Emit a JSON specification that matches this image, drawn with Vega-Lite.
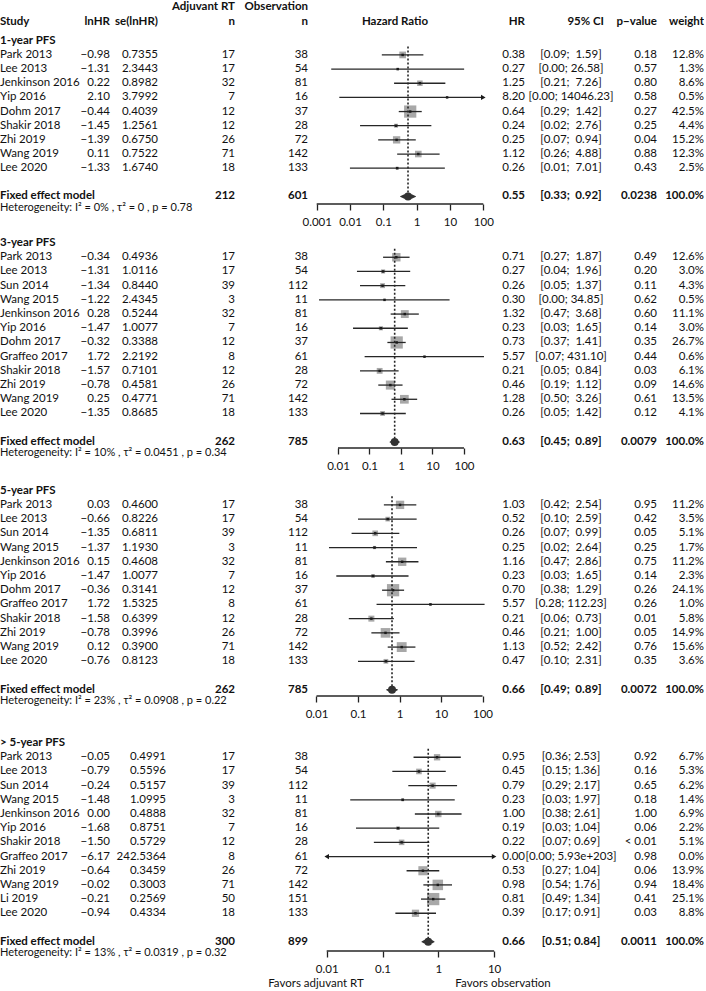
{
"$schema":"https://vega.github.io/schema/vega-lite/v6.json",
"padding":{"left":0,"top":0,"right":0,"bottom":16},
"background":"white",
"config":{"view":{"stroke":null},"font":"Lato","text":{"font":"Lato","fontSize":11.5,"color":"#111111"},"axis":{"labelFont":"Lato"}},
"datasets":{
"t":[
{"sec":1,"row":-2,"kind":"colhead","n1":"Adjuvant RT","n2":"Observation"},
{"sec":1,"row":-1,"kind":"colhead","study":"Study","lnhr":"lnHR","se":"se(lnHR)","n1":"n","n2":"n","fp":"Hazard Ratio","hr_s":"HR","ci":"95% CI","p":"p−value","w_s":"weight"},
{"sec":1,"row":0,"kind":"head","study":"1-year PFS"},
{"sec":1,"row":1,"kind":"study","study":"Park 2013","lnhr":"−0.98","se":"0.7355","n1":17,"n2":38,"hr":0.38,"hr_s":"0.38","ci":"[0.09;\u00a0\u00a01.59]","p":"0.18","w":12.8,"w_s":"12.8%","lo":0.09,"hi":1.59},
{"sec":1,"row":2,"kind":"study","study":"Lee 2013","lnhr":"−1.31","se":"2.3443","n1":17,"n2":54,"hr":0.27,"hr_s":"0.27","ci":"[0.00; 26.58]","p":"0.57","w":1.3,"w_s":"1.3%","lo":0.00273,"hi":26.58},
{"sec":1,"row":3,"kind":"study","study":"Jenkinson 2016","lnhr":"0.22","se":"0.8982","n1":32,"n2":81,"hr":1.25,"hr_s":"1.25","ci":"[0.21;\u00a0\u00a07.26]","p":"0.80","w":8.6,"w_s":"8.6%","lo":0.21,"hi":7.26},
{"sec":1,"row":4,"kind":"study","study":"Yip 2016","lnhr":"2.10","se":"3.7992","n1":7,"n2":16,"hr":8.2,"hr_s":"8.20","ci":"[0.00; 14046.23]","p":"0.58","w":0.5,"w_s":"0.5%","lo":0.00477,"hi":100},
{"sec":1,"row":5,"kind":"study","study":"Dohm 2017","lnhr":"−0.44","se":"0.4039","n1":12,"n2":37,"hr":0.64,"hr_s":"0.64","ci":"[0.29;\u00a0\u00a01.42]","p":"0.27","w":42.5,"w_s":"42.5%","lo":0.29,"hi":1.42},
{"sec":1,"row":6,"kind":"study","study":"Shakir 2018","lnhr":"−1.45","se":"1.2561","n1":12,"n2":28,"hr":0.24,"hr_s":"0.24","ci":"[0.02;\u00a0\u00a02.76]","p":"0.25","w":4.4,"w_s":"4.4%","lo":0.02,"hi":2.76},
{"sec":1,"row":7,"kind":"study","study":"Zhi 2019","lnhr":"−1.39","se":"0.6750","n1":26,"n2":72,"hr":0.25,"hr_s":"0.25","ci":"[0.07;\u00a0\u00a00.94]","p":"0.04","w":15.2,"w_s":"15.2%","lo":0.07,"hi":0.94},
{"sec":1,"row":8,"kind":"study","study":"Wang 2019","lnhr":"0.11","se":"0.7522","n1":71,"n2":142,"hr":1.12,"hr_s":"1.12","ci":"[0.26;\u00a0\u00a04.88]","p":"0.88","w":12.3,"w_s":"12.3%","lo":0.26,"hi":4.88},
{"sec":1,"row":9,"kind":"study","study":"Lee 2020","lnhr":"−1.33","se":"1.6740","n1":18,"n2":133,"hr":0.26,"hr_s":"0.26","ci":"[0.01;\u00a0\u00a07.01]","p":"0.43","w":2.5,"w_s":"2.5%","lo":0.00994,"hi":7.01},
{"sec":1,"row":11,"kind":"fixed","study":"Fixed effect model","n1":212,"n2":601,"hr":0.55,"hr_s":"0.55","ci":"[0.33;\u00a0\u00a00.92]","p":"0.0238","w_s":"100.0%","lo":0.33,"hi":0.92},
{"sec":1,"row":11,"kind":"het","study":"Heterogeneity:  I² = 0% ,  τ² = 0 ,  p = 0.78"},

{"sec":2,"row":0,"kind":"head","study":"3-year PFS"},
{"sec":2,"row":1,"kind":"study","study":"Park 2013","lnhr":"−0.34","se":"0.4936","n1":17,"n2":38,"hr":0.71,"hr_s":"0.71","ci":"[0.27;\u00a0\u00a01.87]","p":"0.49","w":12.6,"w_s":"12.6%","lo":0.27,"hi":1.87},
{"sec":2,"row":2,"kind":"study","study":"Lee 2013","lnhr":"−1.31","se":"1.0116","n1":17,"n2":54,"hr":0.27,"hr_s":"0.27","ci":"[0.04;\u00a0\u00a01.96]","p":"0.20","w":3.0,"w_s":"3.0%","lo":0.04,"hi":1.96},
{"sec":2,"row":3,"kind":"study","study":"Sun 2014","lnhr":"−1.34","se":"0.8440","n1":39,"n2":112,"hr":0.26,"hr_s":"0.26","ci":"[0.05;\u00a0\u00a01.37]","p":"0.11","w":4.3,"w_s":"4.3%","lo":0.05,"hi":1.37},
{"sec":2,"row":4,"kind":"study","study":"Wang 2015","lnhr":"−1.22","se":"2.4345","n1":3,"n2":11,"hr":0.30,"hr_s":"0.30","ci":"[0.00; 34.85]","p":"0.62","w":0.5,"w_s":"0.5%","lo":0.0025,"hi":34.85},
{"sec":2,"row":5,"kind":"study","study":"Jenkinson 2016","lnhr":"0.28","se":"0.5244","n1":32,"n2":81,"hr":1.32,"hr_s":"1.32","ci":"[0.47;\u00a0\u00a03.68]","p":"0.60","w":11.1,"w_s":"11.1%","lo":0.47,"hi":3.68},
{"sec":2,"row":6,"kind":"study","study":"Yip 2016","lnhr":"−1.47","se":"1.0077","n1":7,"n2":16,"hr":0.23,"hr_s":"0.23","ci":"[0.03;\u00a0\u00a01.65]","p":"0.14","w":3.0,"w_s":"3.0%","lo":0.03,"hi":1.65},
{"sec":2,"row":7,"kind":"study","study":"Dohm 2017","lnhr":"−0.32","se":"0.3388","n1":12,"n2":37,"hr":0.73,"hr_s":"0.73","ci":"[0.37;\u00a0\u00a01.41]","p":"0.35","w":26.7,"w_s":"26.7%","lo":0.37,"hi":1.41},
{"sec":2,"row":8,"kind":"study","study":"Graffeo 2017","lnhr":"1.72","se":"2.2192","n1":8,"n2":61,"hr":5.57,"hr_s":"5.57","ci":"[0.07; 431.10]","p":"0.44","w":0.6,"w_s":"0.6%","lo":0.07,"hi":431.1},
{"sec":2,"row":9,"kind":"study","study":"Shakir 2018","lnhr":"−1.57","se":"0.7101","n1":12,"n2":28,"hr":0.21,"hr_s":"0.21","ci":"[0.05;\u00a0\u00a00.84]","p":"0.03","w":6.1,"w_s":"6.1%","lo":0.05,"hi":0.84},
{"sec":2,"row":10,"kind":"study","study":"Zhi 2019","lnhr":"−0.78","se":"0.4581","n1":26,"n2":72,"hr":0.46,"hr_s":"0.46","ci":"[0.19;\u00a0\u00a01.12]","p":"0.09","w":14.6,"w_s":"14.6%","lo":0.19,"hi":1.12},
{"sec":2,"row":11,"kind":"study","study":"Wang 2019","lnhr":"0.25","se":"0.4771","n1":71,"n2":142,"hr":1.28,"hr_s":"1.28","ci":"[0.50;\u00a0\u00a03.26]","p":"0.61","w":13.5,"w_s":"13.5%","lo":0.50,"hi":3.26},
{"sec":2,"row":12,"kind":"study","study":"Lee 2020","lnhr":"−1.35","se":"0.8685","n1":18,"n2":133,"hr":0.26,"hr_s":"0.26","ci":"[0.05;\u00a0\u00a01.42]","p":"0.12","w":4.1,"w_s":"4.1%","lo":0.05,"hi":1.42},
{"sec":2,"row":14,"kind":"fixed","study":"Fixed effect model","n1":262,"n2":785,"hr":0.63,"hr_s":"0.63","ci":"[0.45;\u00a0\u00a00.89]","p":"0.0079","w_s":"100.0%","lo":0.45,"hi":0.89},
{"sec":2,"row":14,"kind":"het","study":"Heterogeneity:  I² = 10% ,  τ² = 0.0451 ,  p = 0.34"},

{"sec":3,"row":0,"kind":"head","study":"5-year PFS"},
{"sec":3,"row":1,"kind":"study","study":"Park 2013","lnhr":"0.03","se":"0.4600","n1":17,"n2":38,"hr":1.03,"hr_s":"1.03","ci":"[0.42;\u00a0\u00a02.54]","p":"0.95","w":11.2,"w_s":"11.2%","lo":0.42,"hi":2.54},
{"sec":3,"row":2,"kind":"study","study":"Lee 2013","lnhr":"−0.66","se":"0.8226","n1":17,"n2":54,"hr":0.52,"hr_s":"0.52","ci":"[0.10;\u00a0\u00a02.59]","p":"0.42","w":3.5,"w_s":"3.5%","lo":0.10,"hi":2.59},
{"sec":3,"row":3,"kind":"study","study":"Sun 2014","lnhr":"−1.35","se":"0.6811","n1":39,"n2":112,"hr":0.26,"hr_s":"0.26","ci":"[0.07;\u00a0\u00a00.99]","p":"0.05","w":5.1,"w_s":"5.1%","lo":0.07,"hi":0.99},
{"sec":3,"row":4,"kind":"study","study":"Wang 2015","lnhr":"−1.37","se":"1.1930","n1":3,"n2":11,"hr":0.25,"hr_s":"0.25","ci":"[0.02;\u00a0\u00a02.64]","p":"0.25","w":1.7,"w_s":"1.7%","lo":0.02,"hi":2.64},
{"sec":3,"row":5,"kind":"study","study":"Jenkinson 2016","lnhr":"0.15","se":"0.4608","n1":32,"n2":81,"hr":1.16,"hr_s":"1.16","ci":"[0.47;\u00a0\u00a02.86]","p":"0.75","w":11.2,"w_s":"11.2%","lo":0.47,"hi":2.86},
{"sec":3,"row":6,"kind":"study","study":"Yip 2016","lnhr":"−1.47","se":"1.0077","n1":7,"n2":16,"hr":0.23,"hr_s":"0.23","ci":"[0.03;\u00a0\u00a01.65]","p":"0.14","w":2.3,"w_s":"2.3%","lo":0.03,"hi":1.65},
{"sec":3,"row":7,"kind":"study","study":"Dohm 2017","lnhr":"−0.36","se":"0.3141","n1":12,"n2":37,"hr":0.70,"hr_s":"0.70","ci":"[0.38;\u00a0\u00a01.29]","p":"0.26","w":24.1,"w_s":"24.1%","lo":0.38,"hi":1.29},
{"sec":3,"row":8,"kind":"study","study":"Graffeo 2017","lnhr":"1.72","se":"1.5325","n1":8,"n2":61,"hr":5.57,"hr_s":"5.57","ci":"[0.28; 112.23]","p":"0.26","w":1.0,"w_s":"1.0%","lo":0.28,"hi":112.23},
{"sec":3,"row":9,"kind":"study","study":"Shakir 2018","lnhr":"−1.58","se":"0.6399","n1":12,"n2":28,"hr":0.21,"hr_s":"0.21","ci":"[0.06;\u00a0\u00a00.73]","p":"0.01","w":5.8,"w_s":"5.8%","lo":0.06,"hi":0.73},
{"sec":3,"row":10,"kind":"study","study":"Zhi 2019","lnhr":"−0.78","se":"0.3996","n1":26,"n2":72,"hr":0.46,"hr_s":"0.46","ci":"[0.21;\u00a0\u00a01.00]","p":"0.05","w":14.9,"w_s":"14.9%","lo":0.21,"hi":1.00},
{"sec":3,"row":11,"kind":"study","study":"Wang 2019","lnhr":"0.12","se":"0.3900","n1":71,"n2":142,"hr":1.13,"hr_s":"1.13","ci":"[0.52;\u00a0\u00a02.42]","p":"0.76","w":15.6,"w_s":"15.6%","lo":0.52,"hi":2.42},
{"sec":3,"row":12,"kind":"study","study":"Lee 2020","lnhr":"−0.76","se":"0.8123","n1":18,"n2":133,"hr":0.47,"hr_s":"0.47","ci":"[0.10;\u00a0\u00a02.31]","p":"0.35","w":3.6,"w_s":"3.6%","lo":0.10,"hi":2.31},
{"sec":3,"row":14,"kind":"fixed","study":"Fixed effect model","n1":262,"n2":785,"hr":0.66,"hr_s":"0.66","ci":"[0.49;\u00a0\u00a00.89]","p":"0.0072","w_s":"100.0%","lo":0.49,"hi":0.89},
{"sec":3,"row":14,"kind":"het","study":"Heterogeneity:  I² = 23% ,  τ² = 0.0908 ,  p = 0.22"},

{"sec":4,"row":0,"kind":"head","study":"> 5-year PFS"},
{"sec":4,"row":1,"kind":"study","study":"Park 2013","lnhr":"−0.05","se":"0.4991","n1":17,"n2":38,"hr":0.95,"hr_s":"0.95","ci":"[0.36; 2.53]","p":"0.92","w":6.7,"w_s":"6.7%","lo":0.36,"hi":2.53},
{"sec":4,"row":2,"kind":"study","study":"Lee 2013","lnhr":"−0.79","se":"0.5596","n1":17,"n2":54,"hr":0.45,"hr_s":"0.45","ci":"[0.15; 1.36]","p":"0.16","w":5.3,"w_s":"5.3%","lo":0.15,"hi":1.36},
{"sec":4,"row":3,"kind":"study","study":"Sun 2014","lnhr":"−0.24","se":"0.5157","n1":39,"n2":112,"hr":0.79,"hr_s":"0.79","ci":"[0.29; 2.17]","p":"0.65","w":6.2,"w_s":"6.2%","lo":0.29,"hi":2.17},
{"sec":4,"row":4,"kind":"study","study":"Wang 2015","lnhr":"−1.48","se":"1.0995","n1":3,"n2":11,"hr":0.23,"hr_s":"0.23","ci":"[0.03; 1.97]","p":"0.18","w":1.4,"w_s":"1.4%","lo":0.0264,"hi":1.97},
{"sec":4,"row":5,"kind":"study","study":"Jenkinson 2016","lnhr":"0.00","se":"0.4888","n1":32,"n2":81,"hr":1.00,"hr_s":"1.00","ci":"[0.38; 2.61]","p":"1.00","w":6.9,"w_s":"6.9%","lo":0.38,"hi":2.61},
{"sec":4,"row":6,"kind":"study","study":"Yip 2016","lnhr":"−1.68","se":"0.8751","n1":7,"n2":16,"hr":0.19,"hr_s":"0.19","ci":"[0.03; 1.04]","p":"0.06","w":2.2,"w_s":"2.2%","lo":0.0335,"hi":1.04},
{"sec":4,"row":7,"kind":"study","study":"Shakir 2018","lnhr":"−1.50","se":"0.5729","n1":12,"n2":28,"hr":0.22,"hr_s":"0.22","ci":"[0.07; 0.69]","p":"< 0.01","w":5.1,"w_s":"5.1%","lo":0.07,"hi":0.69},
{"sec":4,"row":8,"kind":"study","study":"Graffeo 2017","lnhr":"−6.17","se":"242.5364","n1":8,"n2":61,"hr":0.0021,"hr_s":"0.00","ci":"[0.00; 5.93e+203]","p":"0.98","w":0.0,"w_s":"0.0%","lo":0.01,"hi":10},
{"sec":4,"row":9,"kind":"study","study":"Zhi 2019","lnhr":"−0.64","se":"0.3459","n1":26,"n2":72,"hr":0.53,"hr_s":"0.53","ci":"[0.27; 1.04]","p":"0.06","w":13.9,"w_s":"13.9%","lo":0.27,"hi":1.04},
{"sec":4,"row":10,"kind":"study","study":"Wang 2019","lnhr":"−0.02","se":"0.3003","n1":71,"n2":142,"hr":0.98,"hr_s":"0.98","ci":"[0.54; 1.76]","p":"0.94","w":18.4,"w_s":"18.4%","lo":0.54,"hi":1.76},
{"sec":4,"row":11,"kind":"study","study":"Li 2019","lnhr":"−0.21","se":"0.2569","n1":50,"n2":151,"hr":0.81,"hr_s":"0.81","ci":"[0.49; 1.34]","p":"0.41","w":25.1,"w_s":"25.1%","lo":0.49,"hi":1.34},
{"sec":4,"row":12,"kind":"study","study":"Lee 2020","lnhr":"−0.94","se":"0.4334","n1":18,"n2":133,"hr":0.39,"hr_s":"0.39","ci":"[0.17; 0.91]","p":"0.03","w":8.8,"w_s":"8.8%","lo":0.17,"hi":0.91},
{"sec":4,"row":14,"kind":"fixed","study":"Fixed effect model","n1":300,"n2":899,"hr":0.66,"hr_s":"0.66","ci":"[0.51; 0.84]","p":"0.0011","w_s":"100.0%","lo":0.51,"hi":0.84},
{"sec":4,"row":14,"kind":"het","study":"Heterogeneity:  I² = 13% ,  τ² = 0.0319 ,  p = 0.32"},
{"sec":4,"row":17,"kind":"favors","fl":"Favors adjuvant RT","fr":"Favors observation"}
],
"arr":[
{"sec":1,"row":4,"x":100,"end":"upper"},
{"sec":4,"row":8,"x":0.01,"end":"lower"},
{"sec":4,"row":8,"x":10,"end":"upper"}
]
},
"columns":10,
"spacing":0,
"bounds":"flush",
"resolve":{"scale":{"x":"independent","y":"independent","size":"independent","shape":"independent"}},
"concat":[
{"width":80,"height":204,"data":{"name":"t"},"transform":[{"filter":"datum.sec==1 && isValid(datum.study)"}],
 "encoding":{"y":{"field":"row","type":"quantitative","scale":{"domain":[-2.88,11.53],"reverse":true,"nice":false,"zero":false},"axis":null},"x":{"value":0},"text":{"field":"study","type":"nominal"}},
 "layer":[
  {"transform":[{"filter":"datum.kind=='study'"}],"mark":{"type":"text","align":"left"}},
  {"transform":[{"filter":"datum.kind=='head' || datum.kind=='fixed'"}],"mark":{"type":"text","align":"left","fontWeight":"bold"}},
  {"transform":[{"filter":"datum.kind=='colhead'"}],"mark":{"type":"text","align":"left","fontWeight":"bold","dy":-5}},
  {"transform":[{"filter":"datum.kind=='het'"}],"mark":{"type":"text","align":"left","dy":11.5,"fontSize":11}}
 ]},
{"width":30,"height":204,"data":{"name":"t"},"transform":[{"filter":"datum.sec==1 && isValid(datum.lnhr)"}],
 "encoding":{"y":{"field":"row","type":"quantitative","scale":{"domain":[-2.88,11.53],"reverse":true,"nice":false,"zero":false},"axis":null},"x":{"value":"width"},"text":{"field":"lnhr","type":"nominal"}},
 "layer":[
  {"transform":[{"filter":"datum.kind=='study'"}],"mark":{"type":"text","align":"right"}},
  {"transform":[{"filter":"datum.kind=='colhead'"}],"mark":{"type":"text","align":"right","fontWeight":"bold","dy":-5}}
 ]},
{"width":48,"height":204,"data":{"name":"t"},"transform":[{"filter":"datum.sec==1 && isValid(datum.se)"}],
 "encoding":{"y":{"field":"row","type":"quantitative","scale":{"domain":[-2.88,11.53],"reverse":true,"nice":false,"zero":false},"axis":null},"x":{"value":"width"},"text":{"field":"se","type":"nominal"}},
 "layer":[
  {"transform":[{"filter":"datum.kind=='study'"}],"mark":{"type":"text","align":"right"}},
  {"transform":[{"filter":"datum.kind=='colhead'"}],"mark":{"type":"text","align":"right","fontWeight":"bold","dy":-5}}
 ]},
{"width":77,"height":204,"data":{"name":"t"},"transform":[{"filter":"datum.sec==1 && isValid(datum.n1)"}],
 "encoding":{"y":{"field":"row","type":"quantitative","scale":{"domain":[-2.88,11.53],"reverse":true,"nice":false,"zero":false},"axis":null},"x":{"value":"width"},"text":{"field":"n1","type":"nominal"}},
 "layer":[
  {"transform":[{"filter":"datum.kind=='study'"}],"mark":{"type":"text","align":"right"}},
  {"transform":[{"filter":"datum.kind=='fixed'"}],"mark":{"type":"text","align":"right","fontWeight":"bold"}},
  {"transform":[{"filter":"datum.kind=='colhead'"}],"mark":{"type":"text","align":"right","fontWeight":"bold","dy":-5}}
 ]},
{"width":73,"height":204,"data":{"name":"t"},"transform":[{"filter":"datum.sec==1 && isValid(datum.n2)"}],
 "encoding":{"y":{"field":"row","type":"quantitative","scale":{"domain":[-2.88,11.53],"reverse":true,"nice":false,"zero":false},"axis":null},"x":{"value":"width"},"text":{"field":"n2","type":"nominal"}},
 "layer":[
  {"transform":[{"filter":"datum.kind=='study'"}],"mark":{"type":"text","align":"right"}},
  {"transform":[{"filter":"datum.kind=='fixed'"}],"mark":{"type":"text","align":"right","fontWeight":"bold"}},
  {"transform":[{"filter":"datum.kind=='colhead'"}],"mark":{"type":"text","align":"right","fontWeight":"bold","dy":-5}}
 ]},
{"width":192,"height":204,"data":{"name":"t"},"transform":[{"filter":"datum.sec==1"}],
 "encoding":{"y":{"field":"row","type":"quantitative","scale":{"domain":[-2.88,11.53],"reverse":true,"nice":false,"zero":false},"axis":null}},
 "layer":[
  {"transform":[{"filter":"datum.kind=='study'"}],"mark":{"type":"point","shape":"square","filled":true,"color":"#a8a8a8","opacity":1,"clip":true},
   "encoding":{"x":{"field":"hr","type":"quantitative","scale":{"type":"log","domain":[0.000548,317],"nice":false},"axis":{"values":[0.001,0.01,0.1,1,10,100],"format":"~g","title":null,"domain":false,"grid":false,"tickSize":6,"tickColor":"#222222","tickWidth":1.3,"labelFontSize":11.5,"labelPadding":6,"labelColor":"#111111","labelFlush":false,"labelOverlap":false}},
   "size":{"field":"w","type":"quantitative","scale":{"domain":[0,42.5],"range":[0,150],"zero":true},"legend":null}}},
  {"transform":[{"filter":"datum.kind=='study'"}],"mark":{"type":"rule","color":"#262626","strokeWidth":1.3},
   "encoding":{"x":{"field":"lo","type":"quantitative","scale":{"type":"log"}},"x2":{"field":"hi"}}},
  {"transform":[{"filter":"datum.kind=='study'"}],"mark":{"type":"point","shape":"square","filled":true,"color":"#1a1a1a","opacity":1,"size":6,"clip":true},
   "encoding":{"x":{"field":"hr","type":"quantitative","scale":{"type":"log"}}}},
  {"data":{"name":"arr"},"transform":[{"filter":"datum.sec==1"}],"mark":{"type":"point","filled":true,"color":"#1a1a1a","opacity":1,"size":28},
   "encoding":{"x":{"field":"x","type":"quantitative","scale":{"type":"log"}},"y":{"field":"row","type":"quantitative"},"shape":{"field":"end","type":"nominal","scale":{"domain":["lower","upper"],"range":["triangle-left","triangle-right"]},"legend":null}}},
  {"data":{"values":[{}]},"mark":{"type":"rule","color":"#262626","strokeWidth":1.3},
   "encoding":{"x":{"datum":1,"type":"quantitative","scale":{"type":"log"}},"y":{"datum":0.4},"y2":{"value":"height"}}},
  {"transform":[{"filter":"datum.kind=='fixed'"}],"mark":{"type":"rule","color":"#262626","strokeWidth":1.6,"strokeDash":[2,2]},
   "encoding":{"x":{"field":"hr","type":"quantitative","scale":{"type":"log"}},"y":{"datum":0.4},"y2":{"field":"row"}}},
  {"transform":[{"filter":"datum.kind=='fixed'"},{"fold":["lo","hr","hi"]}],"mark":{"type":"trail","color":"#333333"},
   "encoding":{"x":{"field":"value","type":"quantitative","scale":{"type":"log"}},"size":{"condition":{"test":"datum.key==='hr'","value":8},"value":0}}},
  {"data":{"values":[{}]},"mark":{"type":"rule","color":"#262626","strokeWidth":1.3},
   "encoding":{"x":{"datum":0.001,"type":"quantitative","scale":{"type":"log"}},"x2":{"datum":100},"y":{"value":"height"}}},
  {"transform":[{"filter":"datum.kind=='colhead' && isValid(datum.fp)"}],"mark":{"type":"text","fontWeight":"bold","dy":-5,"dx":-9},
   "encoding":{"text":{"field":"fp","type":"nominal"}}}
 ]},
{"width":25,"height":204,"data":{"name":"t"},"transform":[{"filter":"datum.sec==1 && isValid(datum.hr_s)"}],
 "encoding":{"y":{"field":"row","type":"quantitative","scale":{"domain":[-2.88,11.53],"reverse":true,"nice":false,"zero":false},"axis":null},"x":{"value":"width"},"text":{"field":"hr_s","type":"nominal"}},
 "layer":[
  {"transform":[{"filter":"datum.kind=='study'"}],"mark":{"type":"text","align":"right"}},
  {"transform":[{"filter":"datum.kind=='fixed'"}],"mark":{"type":"text","align":"right","fontWeight":"bold"}},
  {"transform":[{"filter":"datum.kind=='colhead'"}],"mark":{"type":"text","align":"right","fontWeight":"bold","dy":-5}}
 ]},
{"width":92,"height":204,"data":{"name":"t"},"transform":[{"filter":"datum.sec==1 && isValid(datum.ci)"}],
 "encoding":{"y":{"field":"row","type":"quantitative","scale":{"domain":[-2.88,11.53],"reverse":true,"nice":false,"zero":false},"axis":null},"text":{"field":"ci","type":"nominal"}},
 "layer":[
  {"transform":[{"filter":"datum.kind=='study'"}],"mark":{"type":"text","align":"center"}},
  {"transform":[{"filter":"datum.kind=='fixed'"}],"mark":{"type":"text","align":"center","fontWeight":"bold"}},
  {"transform":[{"filter":"datum.kind=='colhead'"}],"mark":{"type":"text","align":"right","fontWeight":"bold","dy":-5,"dx":-13},"encoding":{"x":{"value":"width"}}}
 ]},
{"width":40,"height":204,"data":{"name":"t"},"transform":[{"filter":"datum.sec==1 && isValid(datum.p)"}],
 "encoding":{"y":{"field":"row","type":"quantitative","scale":{"domain":[-2.88,11.53],"reverse":true,"nice":false,"zero":false},"axis":null},"x":{"value":"width"},"text":{"field":"p","type":"nominal"}},
 "layer":[
  {"transform":[{"filter":"datum.kind=='study'"}],"mark":{"type":"text","align":"right"}},
  {"transform":[{"filter":"datum.kind=='fixed'"}],"mark":{"type":"text","align":"right","fontWeight":"bold"}},
  {"transform":[{"filter":"datum.kind=='colhead'"}],"mark":{"type":"text","align":"right","fontWeight":"bold","dy":-5}}
 ]},
{"width":47,"height":204,"data":{"name":"t"},"transform":[{"filter":"datum.sec==1 && isValid(datum.w_s)"}],
 "encoding":{"y":{"field":"row","type":"quantitative","scale":{"domain":[-2.88,11.53],"reverse":true,"nice":false,"zero":false},"axis":null},"x":{"value":"width"},"text":{"field":"w_s","type":"nominal"}},
 "layer":[
  {"transform":[{"filter":"datum.kind=='study'"}],"mark":{"type":"text","align":"right"}},
  {"transform":[{"filter":"datum.kind=='fixed'"}],"mark":{"type":"text","align":"right","fontWeight":"bold"}},
  {"transform":[{"filter":"datum.kind=='colhead'"}],"mark":{"type":"text","align":"right","fontWeight":"bold","dy":-5}}
 ]},

{"width":80,"height":244,"data":{"name":"t"},"transform":[{"filter":"datum.sec==2 && isValid(datum.study)"}],
 "encoding":{"y":{"field":"row","type":"quantitative","scale":{"domain":[-2.75,14.43],"reverse":true,"nice":false,"zero":false},"axis":null},"x":{"value":0},"text":{"field":"study","type":"nominal"}},
 "layer":[
  {"transform":[{"filter":"datum.kind=='study'"}],"mark":{"type":"text","align":"left"}},
  {"transform":[{"filter":"datum.kind=='head' || datum.kind=='fixed'"}],"mark":{"type":"text","align":"left","fontWeight":"bold"}},
  {"transform":[{"filter":"datum.kind=='het'"}],"mark":{"type":"text","align":"left","dy":11.5,"fontSize":11}}
 ]},
{"width":30,"height":244,"data":{"name":"t"},"transform":[{"filter":"datum.sec==2 && isValid(datum.lnhr)"}],
 "encoding":{"y":{"field":"row","type":"quantitative","scale":{"domain":[-2.75,14.43],"reverse":true,"nice":false,"zero":false},"axis":null},"x":{"value":"width"},"text":{"field":"lnhr","type":"nominal"}},
 "mark":{"type":"text","align":"right"}},
{"width":48,"height":244,"data":{"name":"t"},"transform":[{"filter":"datum.sec==2 && isValid(datum.se)"}],
 "encoding":{"y":{"field":"row","type":"quantitative","scale":{"domain":[-2.75,14.43],"reverse":true,"nice":false,"zero":false},"axis":null},"x":{"value":"width"},"text":{"field":"se","type":"nominal"}},
 "mark":{"type":"text","align":"right"}},
{"width":77,"height":244,"data":{"name":"t"},"transform":[{"filter":"datum.sec==2 && isValid(datum.n1)"}],
 "encoding":{"y":{"field":"row","type":"quantitative","scale":{"domain":[-2.75,14.43],"reverse":true,"nice":false,"zero":false},"axis":null},"x":{"value":"width"},"text":{"field":"n1","type":"nominal"}},
 "layer":[
  {"transform":[{"filter":"datum.kind=='study'"}],"mark":{"type":"text","align":"right"}},
  {"transform":[{"filter":"datum.kind=='fixed'"}],"mark":{"type":"text","align":"right","fontWeight":"bold"}}
 ]},
{"width":73,"height":244,"data":{"name":"t"},"transform":[{"filter":"datum.sec==2 && isValid(datum.n2)"}],
 "encoding":{"y":{"field":"row","type":"quantitative","scale":{"domain":[-2.75,14.43],"reverse":true,"nice":false,"zero":false},"axis":null},"x":{"value":"width"},"text":{"field":"n2","type":"nominal"}},
 "layer":[
  {"transform":[{"filter":"datum.kind=='study'"}],"mark":{"type":"text","align":"right"}},
  {"transform":[{"filter":"datum.kind=='fixed'"}],"mark":{"type":"text","align":"right","fontWeight":"bold"}}
 ]},
{"width":192,"height":244,"data":{"name":"t"},"transform":[{"filter":"datum.sec==2"}],
 "encoding":{"y":{"field":"row","type":"quantitative","scale":{"domain":[-2.75,14.43],"reverse":true,"nice":false,"zero":false},"axis":null}},
 "layer":[
  {"transform":[{"filter":"datum.kind=='study'"}],"mark":{"type":"point","shape":"square","filled":true,"color":"#a8a8a8","opacity":1,"clip":true},
   "encoding":{"x":{"field":"hr","type":"quantitative","scale":{"type":"log","domain":[0.001116,1390],"nice":false},"axis":{"values":[0.01,0.1,1,10,100],"format":"~g","title":null,"domain":false,"grid":false,"tickSize":6,"tickColor":"#222222","tickWidth":1.3,"labelFontSize":11.5,"labelPadding":6,"labelColor":"#111111","labelFlush":false,"labelOverlap":false}},
   "size":{"field":"w","type":"quantitative","scale":{"domain":[0,26.7],"range":[0,150],"zero":true},"legend":null}}},
  {"transform":[{"filter":"datum.kind=='study'"}],"mark":{"type":"rule","color":"#262626","strokeWidth":1.3},
   "encoding":{"x":{"field":"lo","type":"quantitative","scale":{"type":"log"}},"x2":{"field":"hi"}}},
  {"transform":[{"filter":"datum.kind=='study'"}],"mark":{"type":"point","shape":"square","filled":true,"color":"#1a1a1a","opacity":1,"size":6,"clip":true},
   "encoding":{"x":{"field":"hr","type":"quantitative","scale":{"type":"log"}}}},
  {"data":{"values":[{}]},"mark":{"type":"rule","color":"#262626","strokeWidth":1.3},
   "encoding":{"x":{"datum":1,"type":"quantitative","scale":{"type":"log"}},"y":{"datum":0.4},"y2":{"value":"height"}}},
  {"transform":[{"filter":"datum.kind=='fixed'"}],"mark":{"type":"rule","color":"#262626","strokeWidth":1.6,"strokeDash":[2,2]},
   "encoding":{"x":{"field":"hr","type":"quantitative","scale":{"type":"log"}},"y":{"datum":0.4},"y2":{"field":"row"}}},
  {"transform":[{"filter":"datum.kind=='fixed'"},{"fold":["lo","hr","hi"]}],"mark":{"type":"trail","color":"#333333"},
   "encoding":{"x":{"field":"value","type":"quantitative","scale":{"type":"log"}},"size":{"condition":{"test":"datum.key==='hr'","value":8},"value":0}}},
  {"data":{"values":[{}]},"mark":{"type":"rule","color":"#262626","strokeWidth":1.3},
   "encoding":{"x":{"datum":0.01,"type":"quantitative","scale":{"type":"log"}},"x2":{"datum":100},"y":{"value":"height"}}}
 ]},
{"width":25,"height":244,"data":{"name":"t"},"transform":[{"filter":"datum.sec==2 && isValid(datum.hr_s)"}],
 "encoding":{"y":{"field":"row","type":"quantitative","scale":{"domain":[-2.75,14.43],"reverse":true,"nice":false,"zero":false},"axis":null},"x":{"value":"width"},"text":{"field":"hr_s","type":"nominal"}},
 "layer":[
  {"transform":[{"filter":"datum.kind=='study'"}],"mark":{"type":"text","align":"right"}},
  {"transform":[{"filter":"datum.kind=='fixed'"}],"mark":{"type":"text","align":"right","fontWeight":"bold"}}
 ]},
{"width":92,"height":244,"data":{"name":"t"},"transform":[{"filter":"datum.sec==2 && isValid(datum.ci)"}],
 "encoding":{"y":{"field":"row","type":"quantitative","scale":{"domain":[-2.75,14.43],"reverse":true,"nice":false,"zero":false},"axis":null},"text":{"field":"ci","type":"nominal"}},
 "layer":[
  {"transform":[{"filter":"datum.kind=='study'"}],"mark":{"type":"text","align":"center"}},
  {"transform":[{"filter":"datum.kind=='fixed'"}],"mark":{"type":"text","align":"center","fontWeight":"bold"}}
 ]},
{"width":40,"height":244,"data":{"name":"t"},"transform":[{"filter":"datum.sec==2 && isValid(datum.p)"}],
 "encoding":{"y":{"field":"row","type":"quantitative","scale":{"domain":[-2.75,14.43],"reverse":true,"nice":false,"zero":false},"axis":null},"x":{"value":"width"},"text":{"field":"p","type":"nominal"}},
 "layer":[
  {"transform":[{"filter":"datum.kind=='study'"}],"mark":{"type":"text","align":"right"}},
  {"transform":[{"filter":"datum.kind=='fixed'"}],"mark":{"type":"text","align":"right","fontWeight":"bold"}}
 ]},
{"width":47,"height":244,"data":{"name":"t"},"transform":[{"filter":"datum.sec==2 && isValid(datum.w_s)"}],
 "encoding":{"y":{"field":"row","type":"quantitative","scale":{"domain":[-2.75,14.43],"reverse":true,"nice":false,"zero":false},"axis":null},"x":{"value":"width"},"text":{"field":"w_s","type":"nominal"}},
 "layer":[
  {"transform":[{"filter":"datum.kind=='study'"}],"mark":{"type":"text","align":"right"}},
  {"transform":[{"filter":"datum.kind=='fixed'"}],"mark":{"type":"text","align":"right","fontWeight":"bold"}}
 ]},

{"width":80,"height":248,"data":{"name":"t"},"transform":[{"filter":"datum.sec==3 && isValid(datum.study)"}],
 "encoding":{"y":{"field":"row","type":"quantitative","scale":{"domain":[-3.0,14.44],"reverse":true,"nice":false,"zero":false},"axis":null},"x":{"value":0},"text":{"field":"study","type":"nominal"}},
 "layer":[
  {"transform":[{"filter":"datum.kind=='study'"}],"mark":{"type":"text","align":"left"}},
  {"transform":[{"filter":"datum.kind=='head' || datum.kind=='fixed'"}],"mark":{"type":"text","align":"left","fontWeight":"bold"}},
  {"transform":[{"filter":"datum.kind=='het'"}],"mark":{"type":"text","align":"left","dy":11.5,"fontSize":11}}
 ]},
{"width":30,"height":248,"data":{"name":"t"},"transform":[{"filter":"datum.sec==3 && isValid(datum.lnhr)"}],
 "encoding":{"y":{"field":"row","type":"quantitative","scale":{"domain":[-3.0,14.44],"reverse":true,"nice":false,"zero":false},"axis":null},"x":{"value":"width"},"text":{"field":"lnhr","type":"nominal"}},
 "mark":{"type":"text","align":"right"}},
{"width":48,"height":248,"data":{"name":"t"},"transform":[{"filter":"datum.sec==3 && isValid(datum.se)"}],
 "encoding":{"y":{"field":"row","type":"quantitative","scale":{"domain":[-3.0,14.44],"reverse":true,"nice":false,"zero":false},"axis":null},"x":{"value":"width"},"text":{"field":"se","type":"nominal"}},
 "mark":{"type":"text","align":"right"}},
{"width":77,"height":248,"data":{"name":"t"},"transform":[{"filter":"datum.sec==3 && isValid(datum.n1)"}],
 "encoding":{"y":{"field":"row","type":"quantitative","scale":{"domain":[-3.0,14.44],"reverse":true,"nice":false,"zero":false},"axis":null},"x":{"value":"width"},"text":{"field":"n1","type":"nominal"}},
 "layer":[
  {"transform":[{"filter":"datum.kind=='study'"}],"mark":{"type":"text","align":"right"}},
  {"transform":[{"filter":"datum.kind=='fixed'"}],"mark":{"type":"text","align":"right","fontWeight":"bold"}}
 ]},
{"width":73,"height":248,"data":{"name":"t"},"transform":[{"filter":"datum.sec==3 && isValid(datum.n2)"}],
 "encoding":{"y":{"field":"row","type":"quantitative","scale":{"domain":[-3.0,14.44],"reverse":true,"nice":false,"zero":false},"axis":null},"x":{"value":"width"},"text":{"field":"n2","type":"nominal"}},
 "layer":[
  {"transform":[{"filter":"datum.kind=='study'"}],"mark":{"type":"text","align":"right"}},
  {"transform":[{"filter":"datum.kind=='fixed'"}],"mark":{"type":"text","align":"right","fontWeight":"bold"}}
 ]},
{"width":192,"height":248,"data":{"name":"t"},"transform":[{"filter":"datum.sec==3"}],
 "encoding":{"y":{"field":"row","type":"quantitative","scale":{"domain":[-3.0,14.44],"reverse":true,"nice":false,"zero":false},"axis":null}},
 "layer":[
  {"transform":[{"filter":"datum.kind=='study'"}],"mark":{"type":"point","shape":"square","filled":true,"color":"#a8a8a8","opacity":1,"clip":true},
   "encoding":{"x":{"field":"hr","type":"quantitative","scale":{"type":"log","domain":[0.00624,264],"nice":false},"axis":{"values":[0.01,0.1,1,10,100],"format":"~g","title":null,"domain":false,"grid":false,"tickSize":6,"tickColor":"#222222","tickWidth":1.3,"labelFontSize":11.5,"labelPadding":6,"labelColor":"#111111","labelFlush":false,"labelOverlap":false}},
   "size":{"field":"w","type":"quantitative","scale":{"domain":[0,24.1],"range":[0,150],"zero":true},"legend":null}}},
  {"transform":[{"filter":"datum.kind=='study'"}],"mark":{"type":"rule","color":"#262626","strokeWidth":1.3},
   "encoding":{"x":{"field":"lo","type":"quantitative","scale":{"type":"log"}},"x2":{"field":"hi"}}},
  {"transform":[{"filter":"datum.kind=='study'"}],"mark":{"type":"point","shape":"square","filled":true,"color":"#1a1a1a","opacity":1,"size":6,"clip":true},
   "encoding":{"x":{"field":"hr","type":"quantitative","scale":{"type":"log"}}}},
  {"data":{"values":[{}]},"mark":{"type":"rule","color":"#262626","strokeWidth":1.3},
   "encoding":{"x":{"datum":1,"type":"quantitative","scale":{"type":"log"}},"y":{"datum":0.4},"y2":{"value":"height"}}},
  {"transform":[{"filter":"datum.kind=='fixed'"}],"mark":{"type":"rule","color":"#262626","strokeWidth":1.6,"strokeDash":[2,2]},
   "encoding":{"x":{"field":"hr","type":"quantitative","scale":{"type":"log"}},"y":{"datum":0.4},"y2":{"field":"row"}}},
  {"transform":[{"filter":"datum.kind=='fixed'"},{"fold":["lo","hr","hi"]}],"mark":{"type":"trail","color":"#333333"},
   "encoding":{"x":{"field":"value","type":"quantitative","scale":{"type":"log"}},"size":{"condition":{"test":"datum.key==='hr'","value":8},"value":0}}},
  {"data":{"values":[{}]},"mark":{"type":"rule","color":"#262626","strokeWidth":1.3},
   "encoding":{"x":{"datum":0.01,"type":"quantitative","scale":{"type":"log"}},"x2":{"datum":100},"y":{"value":"height"}}}
 ]},
{"width":25,"height":248,"data":{"name":"t"},"transform":[{"filter":"datum.sec==3 && isValid(datum.hr_s)"}],
 "encoding":{"y":{"field":"row","type":"quantitative","scale":{"domain":[-3.0,14.44],"reverse":true,"nice":false,"zero":false},"axis":null},"x":{"value":"width"},"text":{"field":"hr_s","type":"nominal"}},
 "layer":[
  {"transform":[{"filter":"datum.kind=='study'"}],"mark":{"type":"text","align":"right"}},
  {"transform":[{"filter":"datum.kind=='fixed'"}],"mark":{"type":"text","align":"right","fontWeight":"bold"}}
 ]},
{"width":92,"height":248,"data":{"name":"t"},"transform":[{"filter":"datum.sec==3 && isValid(datum.ci)"}],
 "encoding":{"y":{"field":"row","type":"quantitative","scale":{"domain":[-3.0,14.44],"reverse":true,"nice":false,"zero":false},"axis":null},"text":{"field":"ci","type":"nominal"}},
 "layer":[
  {"transform":[{"filter":"datum.kind=='study'"}],"mark":{"type":"text","align":"center"}},
  {"transform":[{"filter":"datum.kind=='fixed'"}],"mark":{"type":"text","align":"center","fontWeight":"bold"}}
 ]},
{"width":40,"height":248,"data":{"name":"t"},"transform":[{"filter":"datum.sec==3 && isValid(datum.p)"}],
 "encoding":{"y":{"field":"row","type":"quantitative","scale":{"domain":[-3.0,14.44],"reverse":true,"nice":false,"zero":false},"axis":null},"x":{"value":"width"},"text":{"field":"p","type":"nominal"}},
 "layer":[
  {"transform":[{"filter":"datum.kind=='study'"}],"mark":{"type":"text","align":"right"}},
  {"transform":[{"filter":"datum.kind=='fixed'"}],"mark":{"type":"text","align":"right","fontWeight":"bold"}}
 ]},
{"width":47,"height":248,"data":{"name":"t"},"transform":[{"filter":"datum.sec==3 && isValid(datum.w_s)"}],
 "encoding":{"y":{"field":"row","type":"quantitative","scale":{"domain":[-3.0,14.44],"reverse":true,"nice":false,"zero":false},"axis":null},"x":{"value":"width"},"text":{"field":"w_s","type":"nominal"}},
 "layer":[
  {"transform":[{"filter":"datum.kind=='study'"}],"mark":{"type":"text","align":"right"}},
  {"transform":[{"filter":"datum.kind=='fixed'"}],"mark":{"type":"text","align":"right","fontWeight":"bold"}}
 ]},

{"width":80,"height":255,"data":{"name":"t"},"transform":[{"filter":"datum.sec==4 && isValid(datum.study)"}],
 "encoding":{"y":{"field":"row","type":"quantitative","scale":{"domain":[-3.32,14.66],"reverse":true,"nice":false,"zero":false},"axis":null},"x":{"value":0},"text":{"field":"study","type":"nominal"}},
 "layer":[
  {"transform":[{"filter":"datum.kind=='study'"}],"mark":{"type":"text","align":"left"}},
  {"transform":[{"filter":"datum.kind=='head' || datum.kind=='fixed'"}],"mark":{"type":"text","align":"left","fontWeight":"bold"}},
  {"transform":[{"filter":"datum.kind=='het'"}],"mark":{"type":"text","align":"left","dy":11.5,"fontSize":11}}
 ]},
{"width":30,"height":255,"data":{"name":"t"},"transform":[{"filter":"datum.sec==4 && isValid(datum.lnhr)"}],
 "encoding":{"y":{"field":"row","type":"quantitative","scale":{"domain":[-3.32,14.66],"reverse":true,"nice":false,"zero":false},"axis":null},"x":{"value":"width"},"text":{"field":"lnhr","type":"nominal"}},
 "mark":{"type":"text","align":"right"}},
{"width":48,"height":255,"data":{"name":"t"},"transform":[{"filter":"datum.sec==4 && isValid(datum.se)"}],
 "encoding":{"y":{"field":"row","type":"quantitative","scale":{"domain":[-3.32,14.66],"reverse":true,"nice":false,"zero":false},"axis":null},"x":{"value":"width"},"text":{"field":"se","type":"nominal"}},
 "mark":{"type":"text","align":"right","dx":8}},
{"width":77,"height":255,"data":{"name":"t"},"transform":[{"filter":"datum.sec==4 && isValid(datum.n1)"}],
 "encoding":{"y":{"field":"row","type":"quantitative","scale":{"domain":[-3.32,14.66],"reverse":true,"nice":false,"zero":false},"axis":null},"x":{"value":"width"},"text":{"field":"n1","type":"nominal"}},
 "layer":[
  {"transform":[{"filter":"datum.kind=='study'"}],"mark":{"type":"text","align":"right"}},
  {"transform":[{"filter":"datum.kind=='fixed'"}],"mark":{"type":"text","align":"right","fontWeight":"bold"}}
 ]},
{"width":73,"height":255,"data":{"name":"t"},"transform":[{"filter":"datum.sec==4 && isValid(datum.n2)"}],
 "encoding":{"y":{"field":"row","type":"quantitative","scale":{"domain":[-3.32,14.66],"reverse":true,"nice":false,"zero":false},"axis":null},"x":{"value":"width"},"text":{"field":"n2","type":"nominal"}},
 "layer":[
  {"transform":[{"filter":"datum.kind=='study'"}],"mark":{"type":"text","align":"right"}},
  {"transform":[{"filter":"datum.kind=='fixed'"}],"mark":{"type":"text","align":"right","fontWeight":"bold"}}
 ]},
{"width":192,"height":255,"data":{"name":"t"},"transform":[{"filter":"datum.sec==4"}],
 "encoding":{"y":{"field":"row","type":"quantitative","scale":{"domain":[-3.32,14.66],"reverse":true,"nice":false,"zero":false},"axis":null}},
 "layer":[
  {"transform":[{"filter":"datum.kind=='study'"}],"mark":{"type":"point","shape":"square","filled":true,"color":"#a8a8a8","opacity":1,"clip":true},
   "encoding":{"x":{"field":"hr","type":"quantitative","scale":{"type":"log","domain":[0.00462,12.76],"nice":false},"axis":{"values":[0.01,0.1,1,10],"format":"~g","title":null,"domain":false,"grid":false,"tickSize":6,"tickColor":"#222222","tickWidth":1.3,"labelFontSize":11.5,"labelPadding":6,"labelColor":"#111111","labelFlush":false,"labelOverlap":false}},
   "size":{"field":"w","type":"quantitative","scale":{"domain":[0,25.1],"range":[0,150],"zero":true},"legend":null}}},
  {"transform":[{"filter":"datum.kind=='study'"}],"mark":{"type":"rule","color":"#262626","strokeWidth":1.3},
   "encoding":{"x":{"field":"lo","type":"quantitative","scale":{"type":"log"}},"x2":{"field":"hi"}}},
  {"transform":[{"filter":"datum.kind=='study'"}],"mark":{"type":"point","shape":"square","filled":true,"color":"#1a1a1a","opacity":1,"size":6,"clip":true},
   "encoding":{"x":{"field":"hr","type":"quantitative","scale":{"type":"log"}}}},
  {"data":{"name":"arr"},"transform":[{"filter":"datum.sec==4"}],"mark":{"type":"point","filled":true,"color":"#1a1a1a","opacity":1,"size":28},
   "encoding":{"x":{"field":"x","type":"quantitative","scale":{"type":"log"}},"y":{"field":"row","type":"quantitative"},"shape":{"field":"end","type":"nominal","scale":{"domain":["lower","upper"],"range":["triangle-left","triangle-right"]},"legend":null}}},
  {"data":{"values":[{}]},"mark":{"type":"rule","color":"#262626","strokeWidth":1.3},
   "encoding":{"x":{"datum":1,"type":"quantitative","scale":{"type":"log"}},"y":{"datum":0.4},"y2":{"value":"height"}}},
  {"transform":[{"filter":"datum.kind=='fixed'"}],"mark":{"type":"rule","color":"#262626","strokeWidth":1.6,"strokeDash":[2,2]},
   "encoding":{"x":{"field":"hr","type":"quantitative","scale":{"type":"log"}},"y":{"datum":0.4},"y2":{"field":"row"}}},
  {"transform":[{"filter":"datum.kind=='fixed'"},{"fold":["lo","hr","hi"]}],"mark":{"type":"trail","color":"#333333"},
   "encoding":{"x":{"field":"value","type":"quantitative","scale":{"type":"log"}},"size":{"condition":{"test":"datum.key==='hr'","value":8},"value":0}}},
  {"data":{"values":[{}]},"mark":{"type":"rule","color":"#262626","strokeWidth":1.3},
   "encoding":{"x":{"datum":0.01,"type":"quantitative","scale":{"type":"log"}},"x2":{"datum":10},"y":{"value":"height"}}},
  {"transform":[{"filter":"datum.kind=='favors'"}],"mark":{"type":"text","align":"center","dx":8},
   "encoding":{"x":{"value":0},"text":{"field":"fl","type":"nominal"}}},
  {"transform":[{"filter":"datum.kind=='favors'"}],"mark":{"type":"text","align":"center","dx":3},
   "encoding":{"x":{"value":"width"},"text":{"field":"fr","type":"nominal"}}}
 ]},
{"width":25,"height":255,"data":{"name":"t"},"transform":[{"filter":"datum.sec==4 && isValid(datum.hr_s)"}],
 "encoding":{"y":{"field":"row","type":"quantitative","scale":{"domain":[-3.32,14.66],"reverse":true,"nice":false,"zero":false},"axis":null},"x":{"value":"width"},"text":{"field":"hr_s","type":"nominal"}},
 "layer":[
  {"transform":[{"filter":"datum.kind=='study'"}],"mark":{"type":"text","align":"right"}},
  {"transform":[{"filter":"datum.kind=='fixed'"}],"mark":{"type":"text","align":"right","fontWeight":"bold"}}
 ]},
{"width":92,"height":255,"data":{"name":"t"},"transform":[{"filter":"datum.sec==4 && isValid(datum.ci)"}],
 "encoding":{"y":{"field":"row","type":"quantitative","scale":{"domain":[-3.32,14.66],"reverse":true,"nice":false,"zero":false},"axis":null},"text":{"field":"ci","type":"nominal"}},
 "layer":[
  {"transform":[{"filter":"datum.kind=='study'"}],"mark":{"type":"text","align":"center"}},
  {"transform":[{"filter":"datum.kind=='fixed'"}],"mark":{"type":"text","align":"center","fontWeight":"bold"}}
 ]},
{"width":40,"height":255,"data":{"name":"t"},"transform":[{"filter":"datum.sec==4 && isValid(datum.p)"}],
 "encoding":{"y":{"field":"row","type":"quantitative","scale":{"domain":[-3.32,14.66],"reverse":true,"nice":false,"zero":false},"axis":null},"x":{"value":"width"},"text":{"field":"p","type":"nominal"}},
 "layer":[
  {"transform":[{"filter":"datum.kind=='study'"}],"mark":{"type":"text","align":"right"}},
  {"transform":[{"filter":"datum.kind=='fixed'"}],"mark":{"type":"text","align":"right","fontWeight":"bold"}}
 ]},
{"width":47,"height":255,"data":{"name":"t"},"transform":[{"filter":"datum.sec==4 && isValid(datum.w_s)"}],
 "encoding":{"y":{"field":"row","type":"quantitative","scale":{"domain":[-3.32,14.66],"reverse":true,"nice":false,"zero":false},"axis":null},"x":{"value":"width"},"text":{"field":"w_s","type":"nominal"}},
 "layer":[
  {"transform":[{"filter":"datum.kind=='study'"}],"mark":{"type":"text","align":"right"}},
  {"transform":[{"filter":"datum.kind=='fixed'"}],"mark":{"type":"text","align":"right","fontWeight":"bold"}}
 ]}
]
}
